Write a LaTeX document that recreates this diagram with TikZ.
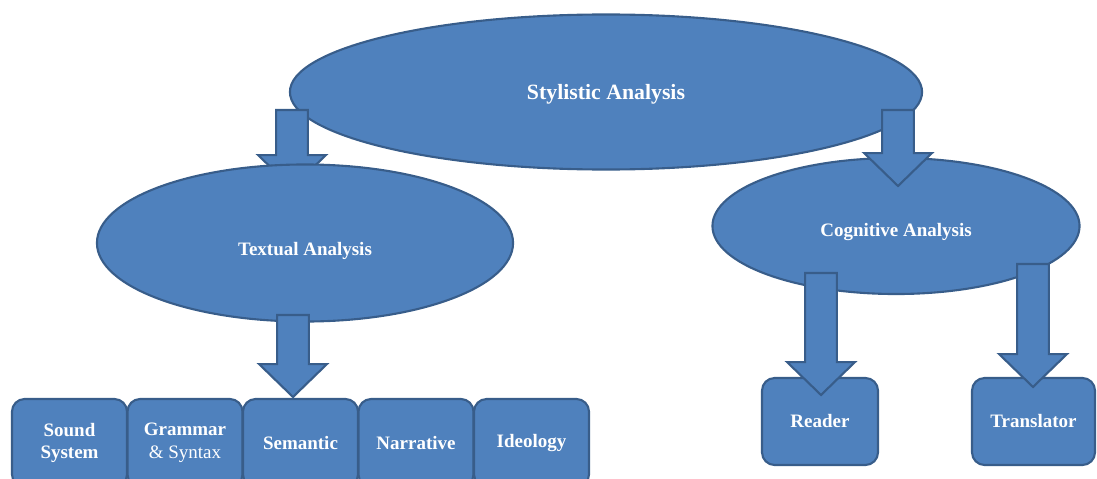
\documentclass[tikz,border=0pt]{standalone}
\usepackage{fontspec}
\setmainfont{Liberation Serif}
\usetikzlibrary{shapes.geometric}
\usetikzlibrary{calc}
\definecolor{boxblue}{HTML}{4F81BD}
\definecolor{boxline}{HTML}{385D8A}
\newcommand{\dropby}[2]{\raisebox{-#1}[0pt][0pt]{#2}}
\tikzset{
  oval/.style={ellipse, draw=boxline, fill=boxblue, line width=1.5pt, text=white, font=\bfseries\fontsize{13.5}{16}\selectfont},
  topic/.style={rectangle, rounded corners=9pt, draw=boxline, fill=boxblue, line width=1.5pt, text=white, align=center, font=\bfseries\fontsize{13.5}{16}\selectfont},
  blockarrow/.style={draw=boxline, fill=boxblue, line width=1.5pt,
    to path={let \p1=(\tikztostart), \p2=(\tikztotarget) in
      (\x1-11.3pt,\y1) -- (\x1-11.3pt,\y2+23.4pt) -- (\x1-24.1pt,\y2+23.4pt) -- (\x2,\y2)
      -- (\x1+24.1pt,\y2+23.4pt) -- (\x1+11.3pt,\y2+23.4pt) -- (\x1+11.3pt,\y1) -- cycle}}
}
\begin{document}
\begin{tikzpicture}[x=0.025cm,y=-0.025cm]
\clip (0,0) rectangle (1097,479);
\useasboundingbox (0,0) rectangle (1097,479);

\coordinate (a1) at (292,110);
\coordinate (b1) at (292,188);
\coordinate (a2) at (898,110);
\coordinate (b2) at (898,186);
\coordinate (a3) at (293,315);
\coordinate (b3) at (293,397);
\coordinate (a4) at (821,273);
\coordinate (b4) at (821,395);
\coordinate (a5) at (1033,264);
\coordinate (b5) at (1033,387);

\node[oval, minimum width=15.8cm, minimum height=3.875cm, font=\bfseries\fontsize{15.5}{18}\selectfont] (style) at (606,92) {\dropby{5.1pt}{Stylistic Analysis}};
\node[oval, minimum width=9.175cm, minimum height=3.4cm] (cogn) at (896,226) {\dropby{7.3pt}{Cognitive\ Analysis}};

\draw[blockarrow] (a1) to (b1);
\draw[blockarrow] (a2) to (b2);

\node[oval, minimum width=10.4cm, minimum height=3.925cm] (text) at (305,243) {\dropby{8.7pt}{Textual Analysis}};
\draw[blockarrow] (a3) to (b3);

\node[topic, minimum width=2.875cm, minimum height=2.2cm] (sound) at (69.5,443) {Sound\\System};
\node[topic, minimum width=2.875cm, minimum height=2.2cm] (gram) at (185,443) {Grammar\\\mdseries\& Syntax};
\node[topic, minimum width=2.875cm, minimum height=2.2cm] (sem) at (300.5,443) {Semantic};
\node[topic, minimum width=2.875cm, minimum height=2.2cm] (narr) at (416,443) {Narrative};
\node[topic, minimum width=2.875cm, minimum height=2.2cm] (ideo) at (531.5,443) {Ideology};

\node[topic, minimum width=2.9cm, minimum height=2.175cm] (reader) at (820,421.5) {Reader};
\node[topic, minimum width=3.075cm, minimum height=2.175cm] (trans) at (1033.5,421.5) {Translator};

\draw[blockarrow] (a4) to (b4);
\draw[blockarrow] (a5) to (b5);
\end{tikzpicture}
\end{document}
